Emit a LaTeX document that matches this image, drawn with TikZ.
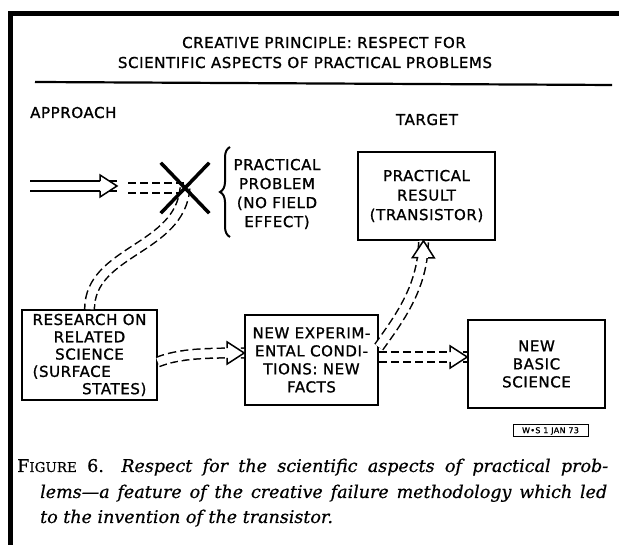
\documentclass[tikz,border=0pt]{standalone}
\usepackage{fontspec}
\newfontfamily\lettering[LetterSpace=4,FakeBold=1.2]{DejaVu Sans}
\newfontfamily\capfont[FakeBold=0.6]{DejaVu Serif}
\usetikzlibrary{shapes.misc,decorations.pathreplacing,decorations.markings}

\tikzset{
  words/.style={font=\lettering\fontsize{15}{18}\selectfont, align=center, inner sep=0pt},
  block/.style={draw, line width=1.6pt, words},
  twin/.style={double, double distance=8.2pt, line width=1.5pt},
  twin dash/.style={line width=11.2pt, dash pattern=on 8pt off 4pt, postaction={draw=white, solid, line width=8.2pt}},
  open head/.style={postaction={decorate}, decoration={markings, mark=at position 1 with {
      \fill[white] (-17pt,11pt) -- (0pt,0pt) -- (-17pt,-11pt) -- cycle;
      \draw[solid, line width=1.5pt, line join=miter] (-17pt,4.9pt) -- (-17pt,11pt) -- (0pt,0pt) -- (-17pt,-11pt) -- (-17pt,-4.9pt);}}},
}

\begin{document}
\begin{tikzpicture}[x=1pt,y=1pt]
\useasboundingbox (0,0) rectangle (619,545);
% frame
\draw[line width=4.5pt] (10.5,0) -- (10.5,531.5) -- (619,531.5);

% heading
\node[words, anchor=base] (title1) at (324,497) {CREATIVE PRINCIPLE: RESPECT FOR};
\node[words, anchor=base] (title2) at (305,477) {SCIENTIFIC ASPECTS OF PRACTICAL PROBLEMS};
\draw[line width=2.2pt] (35,463) -- (612,460);
\node[words, anchor=base west] (approach) at (30,427) {APPROACH};
\node[words, anchor=base] (target) at (427,420) {TARGET};

% boxes
\node[block, minimum width=137pt, minimum height=88pt, font=\lettering\fontsize{15}{19.5}\selectfont] (result) at (426.5,349) {PRACTICAL\\RESULT\\(TRANSISTOR)};
\node[block, minimum width=135pt, minimum height=90pt, font=\lettering\fontsize{15}{17.3}\selectfont] (research) at (89.5,190) {RESEARCH ON\\RELATED\\SCIENCE\\(SURFACE\hfill\null\\\null\hfill STATES)};
\node[block, minimum width=133pt, minimum height=90pt] (facts) at (311.5,185) {NEW EXPERIM-\\ENTAL CONDI-\\TIONS: NEW\\FACTS};
\node[block, minimum width=137pt, minimum height=88pt] (basic) at (536.5,181) {NEW\\BASIC\\SCIENCE};

% practical problem
\coordinate (start) at (30,359);
\coordinate (stop) at (117,359);
\coordinate (dash) at (128,357);
\coordinate (hit) at (185,357);
\draw[line width=2pt, decorate, decoration={brace, amplitude=10pt}] (230,308) -- (230,398);
\node[words, font=\lettering\fontsize{15}{19}\selectfont] (problem) at (277,351) {PRACTICAL\\PROBLEM\\(NO FIELD\\EFFECT)};

% arrows
\draw[twin, open head] (start) -- (stop);
\draw[twin dash] (dash) -- (hit);
\draw[twin dash, open head] (hit) .. controls (180,295) and (90,295) .. (research.north);
\draw[twin dash, open head] ([yshift=-7pt]research.east) .. controls (180,192) and (210,192) .. ([yshift=7pt]facts.west);
\draw[twin dash, open head] ([yshift=3pt]facts.east) -- ([yshift=7pt]basic.west);
\draw[twin dash, open head] ([yshift=13pt]facts.east) .. controls (402,230) and (423,260) .. ([xshift=-3pt]result.south);
\node[cross out, draw, line width=3.5pt, minimum width=45pt, minimum height=47pt, inner sep=0pt] (cross) at (hit) {};

% stamp
\node[draw, line width=1pt, minimum width=75pt, minimum height=12pt, inner sep=0pt, font=\lettering\fontsize{8}{8}\selectfont] (stamp) at (550.5,114) {W•S 1 JAN 73};

% caption
\node[anchor=base west, inner sep=0pt, font=\capfont\fontsize{17.5}{20}\selectfont] (cap1) at (17,73) {\makebox[591pt][s]{F{\fontsize{13.5}{15}\selectfont IGURE} 6.\quad \itshape Respect for the scientific aspects of practical prob-}};
\node[anchor=base west, inner sep=0pt, font=\capfont\fontsize{17.5}{20}\selectfont\itshape] (cap2) at (40,47) {\makebox[567pt][s]{lems—a feature of the creative failure methodology which led}};
\node[anchor=base west, inner sep=0pt, font=\capfont\fontsize{17.5}{20}\selectfont\itshape] (cap3) at (40,22) {to the invention of the transistor.};
\end{tikzpicture}
\end{document}
